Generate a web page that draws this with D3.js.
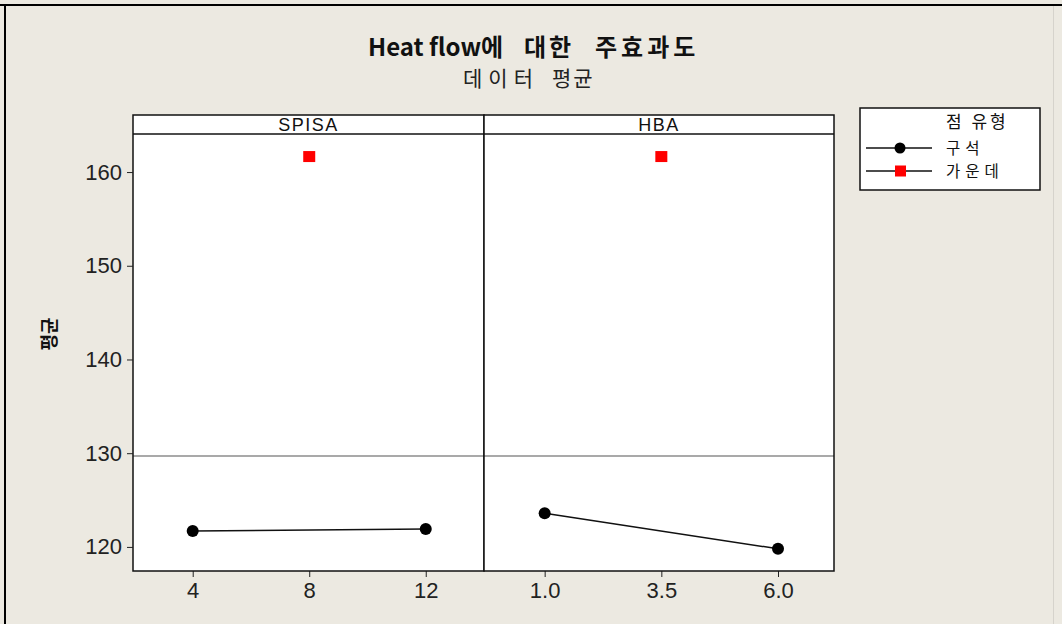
<!DOCTYPE html>
<html>
<head>
<meta charset="utf-8">
<script src="https://cdn.jsdelivr.net/npm/d3@7"></script>
<style>
	body { margin: 0; background: #ece9e1; }
	svg { display: block; }
</style>
</head>
<body>
<svg id="chart" width="1062" height="624"></svg>
<script>
// main effects data (means)
var factors = ["SPISA", "HBA"];
var spisaLevels = [4, 12];
var spisaMeans = [121.7, 121.9];
var spisaCenter = [8];
var spisaCenterMean = [161.6];
var hbaLevels = [1.0, 6.0];
var hbaMeans = [123.6, 119.8];
var hbaCenter = [3.5];
var hbaCenterMean = [161.6];
var spisaTicks = [4, 8, 12];
var hbaTicks = [1.0, 3.5, 6.0];
var yTicks = [120, 130, 140, 150, 160];
var grandMean = [129.7];

var KR = "Noto Sans CJK KR";
var LAT = "Liberation Sans";

var svg = d3.select("#chart");

var plotLeft = 133, plotRight = 834, plotTop = 115, stripH = 19, plotBottom = 571;
var plotMid = 484;

// frame
svg.append("rect").attr("width", 1062).attr("height", 624).attr("fill", "#ece9e1");
svg.append("line").attr("x1", 0).attr("x2", 1062).attr("y1", 5).attr("y2", 5)
	.attr("stroke", "#000").attr("stroke-width", 2);
svg.append("line").attr("x1", 5).attr("x2", 5).attr("y1", 5).attr("y2", 624)
	.attr("stroke", "#000").attr("stroke-width", 2);
svg.append("line").attr("x1", 1053.5).attr("x2", 1053.5).attr("y1", 6).attr("y2", 624)
	.attr("stroke", "#d6d3cc").attr("stroke-width", 1);

// titles
var title = svg.append("text").attr("y", 56)
	.style("font-family", KR).style("font-size", "24px").style("font-weight", "bold").style("fill", "#111");
title.append("tspan").attr("x", 368).text("Heat flow에");
title.append("tspan").attr("x", 524).style("letter-spacing", "3px").text("대한");
title.append("tspan").attr("x", 595).style("letter-spacing", "4px").text("주효과도");

var sub = svg.append("text").attr("y", 86)
	.style("font-family", KR).style("font-size", "21px").style("fill", "#222");
sub.append("tspan").attr("x", 463).style("letter-spacing", "6px").text("데이터");
sub.append("tspan").attr("x", 552).style("letter-spacing", "2px").text("평균");

var y = d3.scaleLinear().domain([117.43, 164.06]).range([plotBottom, plotTop + stripH]);

var panels = [
	{ name: factors[0], x0: plotLeft, x1: plotMid, domain: [1.95, 14.0], ticks: spisaTicks, fmt: d3.format("d"),
	  lv: spisaLevels, mn: spisaMeans, cx: spisaCenter, cy: spisaCenterMean },
	{ name: factors[1], x0: plotMid, x1: plotRight, domain: [-0.3, 7.2], ticks: hbaTicks, fmt: d3.format(".1f"),
	  lv: hbaLevels, mn: hbaMeans, cx: hbaCenter, cy: hbaCenterMean }
];

panels.forEach(function(p) {
	var x = d3.scaleLinear().domain(p.domain).range([p.x0, p.x1]);
	var g = svg.append("g");

	g.append("rect").attr("x", p.x0).attr("y", plotTop).attr("width", p.x1 - p.x0).attr("height", plotBottom - plotTop)
		.attr("fill", "#fff");

	// strip label
	g.append("text").attr("x", (p.x0 + p.x1) / 2).attr("y", plotTop + 16)
		.attr("text-anchor", "middle")
		.style("font-family", LAT).style("font-size", "18px").style("letter-spacing", "1.5px").style("fill", "#111")
		.text(p.name);

	// reference line at grand mean
	g.append("line").attr("x1", p.x0).attr("x2", p.x1)
		.attr("y1", y(grandMean[0])).attr("y2", y(grandMean[0]))
		.attr("stroke", "#555").attr("stroke-width", 1.2);

	// x axis
	var xAxis = d3.axisBottom(x).tickValues(p.ticks).tickFormat(p.fmt).tickSize(6).tickPadding(5);
	var ax = g.append("g").attr("transform", "translate(0," + plotBottom + ")").call(xAxis);
	ax.select(".domain").remove();
	ax.selectAll("line").attr("stroke", "#222");
	ax.selectAll("text").style("font-family", LAT).style("font-size", "22px").style("fill", "#222");

	var pts = p.lv.map(function(v, i) { return [v, p.mn[i]]; });
	g.append("path").datum(pts)
		.attr("d", d3.line().x(function(d) { return x(d[0]); }).y(function(d) { return y(d[1]); }))
		.attr("fill", "none").attr("stroke", "#111").attr("stroke-width", 1.5);
	g.selectAll("circle").data(pts).enter().append("circle")
		.attr("cx", function(d) { return x(d[0]); }).attr("cy", function(d) { return y(d[1]); })
		.attr("r", 6).attr("fill", "#000");

	g.selectAll("rect.center").data(p.cx.map(function(v, i) { return [v, p.cy[i]]; })).enter().append("rect")
		.attr("class", "center")
		.attr("x", function(d) { return x(d[0]) - 6; }).attr("y", function(d) { return y(d[1]) - 6; })
		.attr("width", 12).attr("height", 11).attr("fill", "#f00");

	// borders
	g.append("rect").attr("x", p.x0).attr("y", plotTop).attr("width", p.x1 - p.x0).attr("height", plotBottom - plotTop)
		.attr("fill", "none").attr("stroke", "#111").attr("stroke-width", 1.5);
	g.append("line").attr("x1", p.x0).attr("x2", p.x1).attr("y1", plotTop + stripH).attr("y2", plotTop + stripH)
		.attr("stroke", "#111").attr("stroke-width", 1.5);
});

// y axis
var yAxis = d3.axisLeft(y).tickValues(yTicks).tickSize(6).tickPadding(5);
var ay = svg.append("g").attr("transform", "translate(" + plotLeft + ",0)").call(yAxis);
ay.select(".domain").remove();
ay.selectAll("line").attr("stroke", "#222");
ay.selectAll("text").style("font-family", LAT).style("font-size", "22px").style("fill", "#222");

svg.append("text").attr("transform", "translate(56,334) rotate(-90)")
	.attr("text-anchor", "middle")
	.style("font-family", KR).style("font-size", "18px").style("font-weight", "bold").style("fill", "#111")
	.text("평균");

// legend
var legendNames = ["구석", "가운데"];
var leg = svg.append("g");
leg.append("rect").attr("x", 860).attr("y", 108).attr("width", 180).attr("height", 82)
	.attr("fill", "#fff").attr("stroke", "#111").attr("stroke-width", 1.5);
leg.append("text").attr("x", 946).attr("y", 128)
	.style("font-family", KR).style("font-size", "17px").style("letter-spacing", "3px").style("fill", "#111")
	.text("점 유형");
legendNames.forEach(function(n, i) {
	var ly = 148 + i * 23;
	leg.append("line").attr("x1", 866).attr("x2", 932).attr("y1", ly).attr("y2", ly)
		.attr("stroke", "#111").attr("stroke-width", 1.5);
	if (i == 0) {
		leg.append("circle").attr("cx", 900).attr("cy", ly).attr("r", 5.5).attr("fill", "#000");
	} else {
		leg.append("rect").attr("x", 895).attr("y", ly - 5.5).attr("width", 11).attr("height", 11).attr("fill", "#f00");
	}
	leg.append("text").attr("x", 946).attr("y", ly + 6)
		.style("font-family", KR).style("font-size", "15.5px").style("letter-spacing", "5px").style("fill", "#111")
		.text(n);
});
</script>
</body>
</html>
